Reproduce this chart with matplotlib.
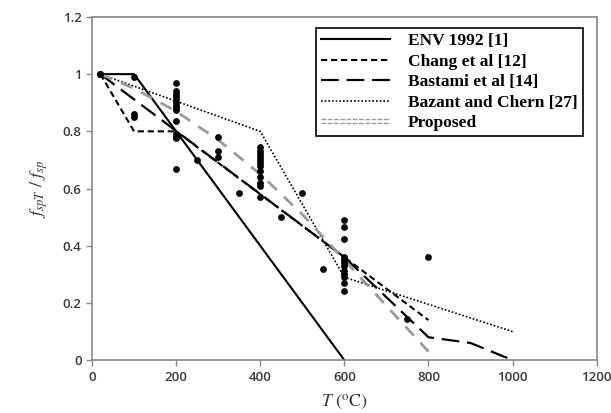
import matplotlib
matplotlib.use("Agg")
import matplotlib.pyplot as plt
from matplotlib.lines import Line2D
from matplotlib.legend_handler import HandlerLine2D

plt.rcParams['mathtext.fontset'] = 'stix'

# ---- data ----
env_T = [20, 100, 600]
env_v = [1.0, 1.0, 0.0]

chang_T = [20, 100, 200, 800]
chang_v = [1.0, 0.8, 0.8, 0.14]

bastami_T = [20, 600, 800, 900, 1000]
bastami_v = [1.0, 0.36, 0.08, 0.06, 0.0]

bazant_T = [20, 400, 600, 1000]
bazant_v = [1.0, 0.8, 0.29, 0.1]

prop_T = [20, 100, 200, 300, 400, 500, 600, 700, 800]
prop_v = [1.0, 0.95, 0.87, 0.77, 0.65, 0.51, 0.35, 0.19, 0.03]

exp_T = [20, 20, 20, 100, 100, 100,
         200, 200, 200, 200, 200, 200, 200, 200, 200, 200, 200, 200, 200, 200,
         250, 300, 300, 300, 350,
         400, 400, 400, 400, 400, 400, 400, 400, 400, 400, 400, 400,
         450, 500, 550,
         600, 600, 600, 600, 600, 600, 600, 600, 600, 600, 600, 600,
         750, 800]
exp_v = [1.0, 1.0, 1.0, 0.99, 0.86, 0.85,
         0.97, 0.94, 0.93, 0.92, 0.91, 0.90, 0.89, 0.88, 0.875, 0.835, 0.79, 0.78, 0.775, 0.67,
         0.70, 0.78, 0.73, 0.71, 0.585,
         0.745, 0.73, 0.72, 0.71, 0.70, 0.69, 0.68, 0.66, 0.64, 0.62, 0.61, 0.57,
         0.50, 0.585, 0.32,
         0.49, 0.465, 0.425, 0.36, 0.35, 0.34, 0.33, 0.31, 0.30, 0.29, 0.27, 0.24,
         0.145, 0.36]

xticks = [0, 200, 400, 600, 800, 1000, 1200]
yticks = [0, 0.2, 0.4, 0.6, 0.8, 1.0, 1.2]
ytick_labels = ["0", "0.2", "0.4", "0.6", "0.8", "1", "1.2"]

labels = ["ENV 1992 [1]", "Chang et al [12]", "Bastami et al [14]",
          "Bazant and Chern [27]", "Proposed"]


class HandlerDouble(HandlerLine2D):
    def create_artists(self, legend, orig_handle, xdescent, ydescent,
                       width, height, fontsize, trans):
        arts = []
        for dy in (-1.6, 1.6):
            y = height / 2 - ydescent + dy
            ln = Line2D([-xdescent, -xdescent + width], [y, y],
                        color=orig_handle.get_color(), lw=1.0,
                        dashes=(3.5, 1.0), transform=trans)
            arts.append(ln)
        return arts


fig = plt.figure(figsize=(6.11, 4.13), dpi=100)
ax = fig.add_axes([0.1506, 0.128, 0.826, 0.831])

l1, = ax.plot(env_T, env_v, color='black', lw=1.5)
l2, = ax.plot(chang_T, chang_v, color='black', lw=1.5, dashes=(3.0, 1.8))
l3, = ax.plot(bastami_T, bastami_v, color='black', lw=1.6, dashes=(8.0, 3.5))
l4, = ax.plot(bazant_T, bazant_v, color='black', lw=1.2, dashes=(1.0, 1.2))
l5, = ax.plot(prop_T, prop_v, color='#9a9a9a', lw=2.0, dashes=(4.5, 3.5))

ax.scatter(exp_T, exp_v, s=24, color='black', zorder=5, linewidths=0)

ax.set_xlim(0, 1200)
ax.set_ylim(0, 1.2)
ax.set_xticks(xticks)
ax.set_yticks(yticks)
ax.set_yticklabels(ytick_labels)

for sp in ax.spines.values():
    sp.set_color('#888888')
    sp.set_linewidth(1.2)

ax.tick_params(axis='both', direction='out', length=4, width=1, color='#888888',
               labelsize=9.5, labelcolor='#3a3a3a')
for lab in ax.get_xticklabels() + ax.get_yticklabels():
    lab.set_fontfamily('Open Sans')
    lab.set_fontweight('semibold')

ax.set_xlabel(r'$T\ (^{\mathrm{o}}\mathrm{C})$', fontsize=13, color='#333333', labelpad=6)
ax.set_ylabel(r'$f_{spT}\ /\ f_{sp}$', fontsize=13, color='#333333', labelpad=9)

leg = ax.legend([l1, l2, l3, l4, l5], labels,
                handler_map={l5: HandlerDouble()},
                loc='upper right', bbox_to_anchor=(0.972, 0.968),
                borderaxespad=0,
                frameon=True, fancybox=False, framealpha=1,
                edgecolor='black', handlelength=4.0, handletextpad=1.0,
                labelspacing=0.25, borderpad=0.3,
                prop={'family': 'Liberation Serif', 'weight': 'bold', 'size': 12.5})
leg.get_frame().set_linewidth(1.2)

fig.savefig('out.png', dpi=100)
